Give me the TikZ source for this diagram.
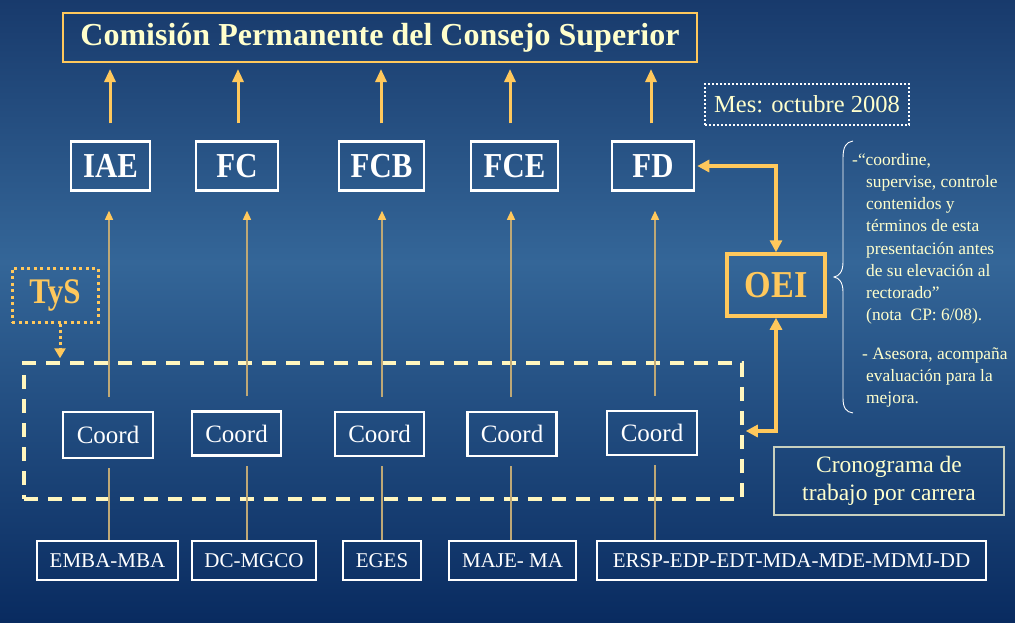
\documentclass[tikz,border=0pt]{standalone}
\usepackage{fontspec}
\setmainfont{Liberation Serif}
\usetikzlibrary{arrows.meta}
\definecolor{bgtop}{RGB}{24,58,108}
\definecolor{bgmid}{RGB}{52,102,152}
\definecolor{bgbot}{RGB}{9,43,96}
\definecolor{pale}{RGB}{255,255,204}
\definecolor{gold}{RGB}{255,200,92}
\definecolor{tan}{RGB}{190,168,118}
\definecolor{dashc}{RGB}{255,246,190}
\definecolor{cronob}{RGB}{200,208,190}
\newcommand{\fs}[1]{\fontsize{#1}{#1}\selectfont}
\tikzset{
  wbox/.style={draw=white, line width=2.5pt, inner sep=0pt, text=white},
  topbox/.style={wbox, minimum height=49pt, font=\bfseries\fs{35}},
  coordbox/.style={wbox, minimum width=89pt, minimum height=44pt, font=\fs{25}},
  botbox/.style={wbox, minimum height=39pt, font=\fs{21}},
  goldarrow/.style={draw=gold, line width=3pt, -{Triangle[length=13pt,width=11pt]}},
  goldboth/.style={draw=gold, line width=3.5pt, {Triangle[length=12pt,width=12pt]}-{Triangle[length=12pt,width=12pt]}},
  thinarrow/.style={draw=tan, line width=1.3pt, -{Triangle[length=9pt,width=8pt,color=gold]}},
  thinline/.style={draw=tan, line width=1.3pt},
  sidetext/.style={anchor=base west, inner sep=0pt, text=pale, font=\fs{17.4}}
}
\begin{document}
\begin{tikzpicture}[x=1pt,y=-1pt]
% background
\shade[top color=bgtop, bottom color=bgmid] (0,0) rectangle (1015,262);
\shade[top color=bgmid, bottom color=bgbot] (0,261) rectangle (1015,622);
\useasboundingbox (0,0) rectangle (1015,622);

% title
\node[draw=gold, line width=2pt, minimum width=634pt, minimum height=49pt, inner sep=0pt,
      text=pale, font=\bfseries\fs{32}] (title) at (380,37.5) {Comisión Permanente del Consejo Superior};

% top boxes
\node[topbox, minimum width=79pt] (iae) at (110.5,166) {\scalebox{0.88}[1]{IAE}};
\node[topbox, minimum width=82pt] (fc) at (237,166) {\scalebox{0.88}[1]{FC}};
\node[topbox, minimum width=85pt] (fcb) at (381.5,166) {\scalebox{0.88}[1]{FCB}};
\node[topbox, minimum width=87pt] (fce) at (514.5,166) {\scalebox{0.88}[1]{FCE}};
\node[topbox, minimum width=82pt] (fd) at (653,166) {\scalebox{0.88}[1]{FD}};

% Mes
\node[draw=white, line width=2pt, dash pattern=on 2pt off 2pt, minimum width=204pt, minimum height=41pt,
      inner sep=0pt, text=pale, font=\fs{24.5}] (mes) at (807,104.5) {Mes: octubre 2008};

% OEI
\node[draw=gold, line width=3.5pt, minimum width=98pt, minimum height=62pt, inner sep=0pt,
      text=gold, font=\bfseries\fs{38}] (oei) at (776,285) {\scalebox{0.9}[1]{OEI}};

% TyS
\node[draw=gold, line width=3pt, dash pattern=on 3pt off 3.5pt, minimum width=86pt, minimum height=54pt,
      inner sep=0pt, text=gold, font=\bfseries\fs{36}] (tys) at (55,295) {\scalebox{0.86}[1]{TyS}};

% dashed region
\node[draw=dashc, line width=3.5pt, dash pattern=on 14pt off 10pt, minimum width=718pt, minimum height=136pt,
      inner sep=0pt] (dash) at (383,431) {};

% coord boxes
\node[coordbox, minimum width=90pt, minimum height=46pt] (c1) at (108,435) {Coord};
\node[coordbox] (c2) at (236.5,433.5) {Coord};
\node[coordbox] (c3) at (379.5,434) {Coord};
\node[coordbox] (c4) at (512,434) {Coord};
\node[coordbox, minimum width=90pt] (c5) at (652,433) {Coord};

% bottom boxes
\node[botbox, minimum width=141pt] (b1) at (107.5,560.5) {EMBA-MBA};
\node[botbox, minimum width=124pt] (b2) at (254,560.5) {DC-MGCO};
\node[botbox, minimum width=78pt] (b3) at (382,560.5) {EGES};
\node[botbox, minimum width=127pt] (b4) at (512.5,560.5) {MAJE- MA};
\node[botbox, minimum width=389pt] (b5) at (791.5,560.5) {ERSP-EDP-EDT-MDA-MDE-MDMJ-DD};

% cronograma
\node[draw=cronob, line width=1.2pt, minimum width=230pt, minimum height=68pt, inner sep=0pt,
      text=pale, align=center, font=\fontsize{23.5}{28}\selectfont] (crono) at (889,481)
      {Cronograma de\\trabajo por carrera};

% column coordinates
\coordinate (g1) at (110,0); \coordinate (g2) at (238,0); \coordinate (g3) at (381,0);
\coordinate (g4) at (510,0); \coordinate (g5) at (651,0);
\coordinate (l1) at (109,0); \coordinate (l2) at (247,0); \coordinate (l3) at (382,0);
\coordinate (l4) at (511,0); \coordinate (l5) at (655,0);

% gold arrows to title
\foreach \b/\g in {iae/g1, fc/g2, fcb/g3, fce/g4, fd/g5}
  \draw[goldarrow, shorten <=17pt, shorten >=6pt] (\b.north -| \g) -- (title.south -| \g);

% thin arrows coord -> faculty
\foreach \c/\b/\l in {c1/iae/l1, c2/fc/l2, c3/fcb/l3, c4/fce/l4, c5/fd/l5}
  \draw[thinarrow, shorten <=14pt, shorten >=19pt] (\c.north -| \l) -- (\b.south -| \l);

% thin lines coord -> programmes
\foreach \c/\b/\l in {c1/b1/l1, c2/b2/l2, c3/b3/l3, c4/b4/l4, c5/b5/l5}
  \draw[thinline, shorten <=9pt] (\c.south -| \l) -- (\b.north -| \l);

% OEI connectors
\draw[goldboth, shorten <=2pt] (fd.east) -| (oei.north);
\draw[goldboth, shorten >=2pt] (oei.south) |- (dash.east);

% TyS dotted arrow
\coordinate (tx) at (60,0);
\draw[draw=gold, line width=3pt, dash pattern=on 3pt off 3pt, -{Triangle[length=10pt,width=11pt]}, shorten >=3pt]
  (tys.south -| tx) -- (dash.north -| tx);

% brace
\draw[draw=white, line width=0.9pt] (853,141) .. controls (846,142) and (843,147) .. (843,158)
  -- (843,262) .. controls (843,272) and (839,276) .. (834,277)
  .. controls (839,278) and (843,282) .. (843,292)
  -- (843,398) .. controls (843,408) and (846,412) .. (853,413);

% side text
\node[sidetext] (s1) at (852,165) {-“coordine,};
\node[sidetext] (s2) at (866,187) {supervise, controle};
\node[sidetext] (s3) at (866,209) {contenidos y};
\node[sidetext] (s4) at (866,231) {términos de esta};
\node[sidetext] (s5) at (866,254) {presentación antes};
\node[sidetext] (s6) at (866,276) {de su elevación al};
\node[sidetext] (s7) at (866,298) {rectorado”};
\node[sidetext] (s8) at (866,320) {(nota\ \ CP: 6/08).};
\node[sidetext] (s9) at (862,359) {- Asesora, acompaña};
\node[sidetext] (s10) at (866,381) {evaluación para la};
\node[sidetext] (s11) at (866,403) {mejora.};
\end{tikzpicture}
\end{document}
